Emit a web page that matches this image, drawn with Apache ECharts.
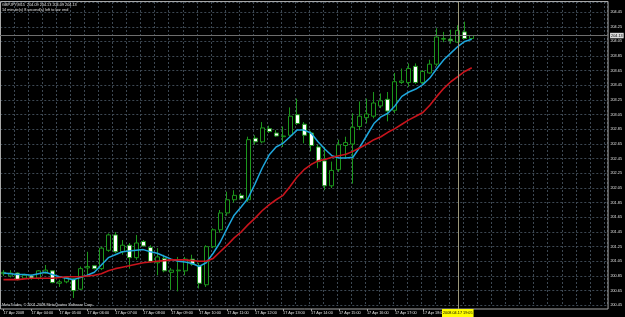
<!DOCTYPE html>
<html>
<head>
<meta charset="utf-8">
<script src="https://cdn.jsdelivr.net/npm/echarts@6/dist/echarts.min.js"></script>
<style>
  html, body { margin: 0; padding: 0; background: #000; }
  #chart { width: 625px; height: 317px; }
</style>
</head>
<body>
<div id="chart"></div>
<script>
// GBPJPY M15, 17 Apr 2008
const symbolTitle = 'GBPJPY,M15  204.09 204.13 204.09 204.13'
const timerText = '14 minute(s) 8 second(s) left to bar end'
const copyright = 'MetaTrader, \u00a9 2001-2008 MetaQuotes Software Corp.'

// hourly labels, one every 4 bars starting at bar 0
const timeLabels = ['17 Apr 2008', '17 Apr 04:00', '17 Apr 05:00', '17 Apr 06:00', '17 Apr 07:00',
  '17 Apr 08:00', '17 Apr 09:00', '17 Apr 10:00', '17 Apr 11:00', '17 Apr 12:00', '17 Apr 13:00',
  '17 Apr 14:00', '17 Apr 15:00', '17 Apr 16:00', '17 Apr 17:00', '17 Apr 18:00']

const opens = [200.88, 200.85, 200.89, 200.82, 200.85, 200.82, 200.89, 200.92, 200.75, 200.77,
  200.81, 200.67, 200.96, 200.99, 200.95, 201.20, 201.41, 201.18, 201.27, 201.10,
  201.32, 201.24, 201.03, 201.09, 200.90, 200.92, 200.92, 201.08, 200.99, 200.73,
  201.25, 201.48, 201.71, 201.89, 201.95, 201.89, 202.73, 202.68, 202.86, 202.80,
  202.75, 202.77, 203.05, 202.92, 202.80, 202.61, 202.42, 202.08, 202.30, 202.63,
  202.65, 202.89, 203.01, 203.03, 203.17, 203.26, 203.11, 203.49, 203.49, 203.71,
  203.49, 203.62, 203.74, 204.08, 204.08, 204.04, 204.18, 204.09]
const closes = [200.90, 200.89, 200.80, 200.86, 200.82, 200.92, 200.93, 200.76, 200.77, 200.83,
  200.65, 200.95, 200.98, 200.95, 201.23, 201.41, 201.18, 201.27, 201.10, 201.30,
  201.26, 201.05, 201.11, 200.92, 200.93, 200.93, 201.08, 201.01, 200.75, 201.25,
  201.48, 201.71, 201.89, 201.95, 201.91, 202.71, 202.68, 202.87, 202.82, 202.76,
  202.76, 203.03, 202.93, 202.77, 202.63, 202.41, 202.08, 202.29, 202.64, 202.67,
  202.88, 203.03, 203.06, 203.21, 203.24, 203.10, 203.50, 203.51, 203.68, 203.49,
  203.64, 203.74, 204.11, 204.09, 204.06, 204.20, 204.09, 204.13]
const lows = [200.85, 200.83, 200.79, 200.81, 200.80, 200.80, 200.88, 200.75, 200.70, 200.75,
  200.55, 200.66, 200.84, 200.94, 200.93, 201.18, 201.16, 201.14, 200.95, 201.07,
  201.25, 201.03, 200.86, 200.90, 200.66, 200.64, 200.86, 200.99, 200.68, 200.70,
  201.23, 201.44, 201.67, 201.85, 201.89, 201.86, 202.64, 202.66, 202.80, 202.75,
  202.61, 202.75, 202.91, 202.66, 202.55, 202.32, 202.02, 202.05, 202.27, 202.46,
  202.11, 202.84, 202.93, 203.00, 203.14, 202.96, 203.07, 203.47, 203.43, 203.47,
  203.46, 203.61, 203.71, 204.04, 204.02, 204.03, 204.08, 204.09]
const highs = [200.93, 200.93, 200.90, 200.88, 200.87, 200.93, 201.00, 200.93, 200.80, 200.85,
  200.82, 200.98, 201.18, 201.00, 201.25, 201.43, 201.45, 201.34, 201.30, 201.41,
  201.34, 201.27, 201.23, 201.14, 200.96, 201.11, 201.11, 201.14, 201.03, 201.27,
  201.50, 201.75, 202.00, 202.02, 201.98, 202.75, 202.77, 202.95, 202.90, 202.84,
  202.89, 203.15, 203.27, 202.95, 202.83, 202.64, 202.61, 202.41, 202.71, 202.75,
  203.07, 203.23, 203.27, 203.36, 203.34, 203.36, 203.62, 203.68, 203.75, 203.75,
  203.66, 203.80, 204.23, 204.18, 204.21, 204.27, 204.32, 204.13]

// the two moving averages (cyan = fast, red = slow)
const fastMA = [200.89, 200.88, 200.87, 200.87, 200.86, 200.88, 200.90, 200.87, 200.84, 200.82,
  200.80, 200.83, 200.86, 200.90, 201.00, 201.10, 201.14, 201.18, 201.19, 201.20,
  201.21, 201.18, 201.16, 201.12, 201.08, 201.05, 201.04, 201.02, 200.98, 201.03,
  201.16, 201.31, 201.50, 201.68, 201.79, 201.91, 202.11, 202.32, 202.50, 202.61,
  202.66, 202.75, 202.84, 202.84, 202.80, 202.68, 202.58, 202.49, 202.46, 202.46,
  202.47, 202.61, 202.77, 202.93, 203.02, 203.07, 203.17, 203.30, 203.36, 203.40,
  203.46, 203.55, 203.68, 203.80, 203.89, 203.98, 204.05, 204.08]
const slowMA = [200.80, 200.80, 200.80, 200.81, 200.82, 200.82, 200.82, 200.82, 200.83, 200.84,
  200.84, 200.84, 200.85, 200.86, 200.88, 200.92, 200.95, 200.97, 200.99, 201.01,
  201.03, 201.04, 201.05, 201.06, 201.07, 201.07, 201.07, 201.06, 201.05, 201.05,
  201.09, 201.18, 201.27, 201.37, 201.45, 201.55, 201.64, 201.74, 201.82, 201.89,
  201.95, 202.07, 202.20, 202.30, 202.37, 202.42, 202.44, 202.47, 202.49, 202.51,
  202.55, 202.60, 202.65, 202.71, 202.75, 202.81, 202.86, 202.92, 202.98, 203.03,
  203.08, 203.18, 203.30, 203.41, 203.50, 203.57, 203.64, 203.69]

const bidPrice = 204.13
const markerBar = 65
const markerText = '2008.04.17 19:05'

// layout (pixels) of the MT4 window
const SLOT = 7.026          // px per bar
const FIRST_X = 0.3         // centre of bar 0
const PLOT_RIGHT = 608.05
const PLOT_TOP = 2
const PLOT_BOTTOM = 309
const PX_PER_YEN = 73.3
const LOW_LABEL = 200.45    // lowest price label
const LOW_LABEL_Y = 305.3
const SLOTS = 87

const yTop = LOW_LABEL + (LOW_LABEL_Y - PLOT_TOP) / PX_PER_YEN
const yBottom = yTop - (PLOT_BOTTOM - PLOT_TOP) / PX_PER_YEN

const GREEN = '#1c961c'
const GRID = '#3d4853'
const TEXT = '#e0e0e0'
const FONT = 'Liberation Sans'
const FS = 3.8

const slots = []
for (let i = 0; i < SLOTS; i++) slots.push(String(i))

const candles = opens.map((o, i) => [o, closes[i], lows[i], highs[i]])
const showTime = (i) => i % 4 === 0 && i / 4 < timeLabels.length

const chart = echarts.init(document.getElementById('chart'), null, { renderer: 'canvas' })

const option = {
  backgroundColor: '#000000',
  animation: false,
  grid: [
    // data grid (category slots, bar 0 centred at FIRST_X)
    { left: FIRST_X - SLOT / 2, right: 625 - PLOT_RIGHT, top: PLOT_TOP, bottom: 317 - PLOT_BOTTOM },
    // grid used only for the dotted grid and the price scale
    { left: FIRST_X, right: 625 - PLOT_RIGHT, top: PLOT_TOP, bottom: 317 - LOW_LABEL_Y }
  ],
  xAxis: [
    {
      type: 'category', gridIndex: 0, data: slots, boundaryGap: true,
      axisLine: { show: false },
      axisTick: { show: true, alignWithLabel: true, interval: showTime, length: 2, lineStyle: { color: '#a0a0a0' } },
      axisLabel: {
        interval: showTime,
        formatter: (v, i) => timeLabels[i / 4],
        align: 'left', margin: 2, fontSize: FS, fontFamily: FONT, color: TEXT
      },
      splitLine: { show: false }
    },
    {
      type: 'value', gridIndex: 1, min: 0, max: (PLOT_RIGHT - FIRST_X) / SLOT, interval: 2,
      axisLine: { show: false }, axisTick: { show: false }, axisLabel: { show: false },
      splitLine: { show: true, lineStyle: { color: GRID, type: [2, 2], width: 1 } }
    }
  ],
  yAxis: [
    { type: 'value', gridIndex: 0, min: yBottom, max: yTop, show: false },
    {
      type: 'value', gridIndex: 1, position: 'right', min: LOW_LABEL, max: yTop, interval: 0.2,
      axisLine: { show: false }, axisTick: { show: false },
      axisLabel: {
        showMaxLabel: false, margin: 3, fontSize: FS, fontFamily: FONT, color: TEXT,
        formatter: (v) => v.toFixed(2)
      },
      splitLine: { show: true, lineStyle: { color: GRID, type: [2, 2], width: 1 } }
    }
  ],
  series: [
    {
      type: 'candlestick', xAxisIndex: 0, yAxisIndex: 0,
      data: candles,
      barWidth: 4.5,
      itemStyle: { color: '#000000', color0: '#ffffff', borderColor: GREEN, borderColor0: GREEN, borderWidth: 1 },
      markLine: {
        silent: true, symbol: ['none', 'none'], animation: false,
        data: [
          {
            yAxis: bidPrice,
            lineStyle: { color: '#6e6e6e', type: 'solid', width: 1 },
            label: {
              show: true, position: 'end', distance: 2, formatter: bidPrice.toFixed(2),
              backgroundColor: '#dcdcdc', color: '#000', fontSize: FS, fontFamily: FONT, padding: [1, 1, 0.5, 1]
            }
          },
          {
            xAxis: markerBar,
            lineStyle: { color: '#9c987a', type: 'solid', width: 1 },
            label: {
              show: true, position: 'start', distance: 0, formatter: markerText,
              backgroundColor: '#ffff00', color: '#000', fontSize: FS, fontFamily: FONT, padding: [2, 1]
            }
          }
        ]
      }
    },
    {
      type: 'line', xAxisIndex: 0, yAxisIndex: 0, data: fastMA,
      symbol: 'none', lineStyle: { color: '#1ea6dc', width: 1.5 }, z: 3
    },
    {
      type: 'line', xAxisIndex: 0, yAxisIndex: 0, data: slowMA,
      symbol: 'none', lineStyle: { color: '#c8141c', width: 1.6 }, z: 3
    }
  ],
  graphic: [
    {
      type: 'rect', silent: true, z: 5,
      shape: { x: 0.5, y: 1.5, width: PLOT_RIGHT - 0.5, height: PLOT_BOTTOM - 1.5 },
      style: { fill: 'none', stroke: '#a8a8a8', lineWidth: 1 }
    },
    {
      type: 'text', left: 2, top: 2.6, z: 6,
      style: { text: symbolTitle, fill: TEXT, fontSize: FS, fontFamily: FONT }
    },
    {
      type: 'text', left: 2, top: 7.8, z: 6,
      style: { text: timerText, fill: TEXT, fontSize: FS, fontFamily: FONT }
    },
    {
      type: 'text', left: 2, top: 303, z: 6,
      style: { text: copyright, fill: TEXT, fontSize: FS, fontFamily: FONT }
    }
  ]
}

chart.setOption(option)
</script>
</body>
</html>
